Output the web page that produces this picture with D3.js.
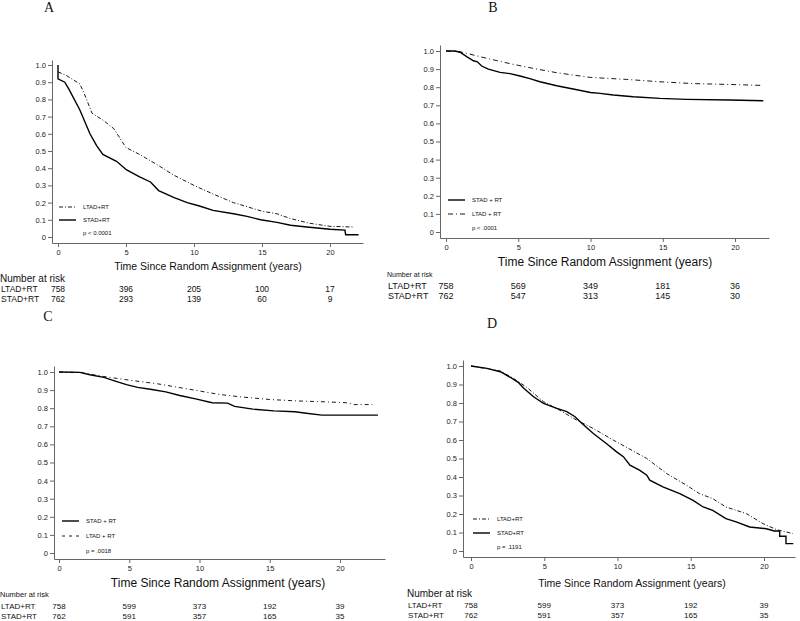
<!DOCTYPE html>
<html>
<head>
<meta charset="UTF-8">
<title>Kaplan-Meier panels</title>
<script src="https://d3js.org/d3.v7.min.js"></script>
<style>
  body { margin: 0; background: white; }
  text { font-family: "Liberation Sans", Arial, sans-serif; fill: #111; }
  .letter { font-family: "Liberation Serif", "Times New Roman", serif; font-size: 14px; text-anchor: middle; }
  .axis path, .axis line { stroke: #666; stroke-width: 1; }
  .axis text { font-size: 7.5px; fill: #222; }
  path.curve { fill: none; stroke: #000; }
</style>
</head>
<body>
<script>
// ---- data: [years, survival] ----
var aLTAD = [[0,0.96],[0.6,0.94],[1.6,0.89],[1.9,0.84],[2.5,0.72],[3.3,0.68],[4.1,0.63],[5.0,0.52],[6.0,0.48],[7.3,0.42],[8.5,0.36],[10,0.30],[11.4,0.25],[12.9,0.20],[15,0.15],[16.1,0.135],[17.1,0.107],[18.5,0.08],[20,0.062],[21.7,0.058]];
var aSTAD = [[0,1.0],[0,0.92],[0.5,0.90],[0.8,0.86],[1.6,0.74],[2.35,0.60],[2.85,0.53],[3.3,0.48],[4.3,0.44],[5.05,0.39],[6.0,0.35],[6.8,0.32],[7.4,0.27],[8.5,0.23],[9.5,0.20],[10.4,0.18],[11.4,0.155],[12.9,0.135],[13.9,0.12],[14.9,0.10],[16.1,0.085],[17.1,0.068],[18.3,0.058],[20,0.045],[21.1,0.04],[21.15,0.013],[22.1,0.013]];

var bSTAD = [[0,1.0],[0.62,1.0],[0.97,0.993],[1.43,0.969],[1.9,0.946],[2.17,0.94],[2.47,0.917],[2.93,0.90],[3.74,0.882],[4.43,0.875],[5.12,0.862],[5.8,0.847],[6.5,0.83],[7.66,0.808],[8.8,0.79],[10,0.771],[10.66,0.766],[11.58,0.757],[12.96,0.747],[14.8,0.738],[16.65,0.733],[19.65,0.729],[21.96,0.725]];
var bLTAD = [[0,1.0],[0.97,0.996],[1.43,0.987],[2.8,0.96],[4.43,0.93],[6.04,0.904],[7.66,0.88],[10,0.854],[12.5,0.843],[14.8,0.83],[17.1,0.82],[19.65,0.815],[21.8,0.81]];

var cSTAD = [[0,1.0],[1.5,0.998],[2.2,0.985],[3.2,0.97],[4.0,0.95],[4.8,0.93],[5.6,0.915],[6.5,0.905],[7.6,0.89],[8.6,0.87],[9.8,0.85],[10.9,0.83],[12.0,0.828],[12.5,0.81],[13.8,0.795],[15.3,0.785],[16.8,0.78],[17.6,0.772],[18.7,0.762],[22.7,0.762]];
var cLTAD = [[0,1.0],[1.5,0.998],[2.0,0.99],[3.2,0.975],[5,0.955],[7,0.935],[8.5,0.915],[10,0.895],[11.5,0.875],[13,0.862],[15,0.848],[17,0.84],[19,0.835],[20.5,0.83],[21,0.82],[22.3,0.82]];

var dSTAD = [[0,1.0],[1.09,0.987],[2,0.969],[2.68,0.939],[3.25,0.91],[3.6,0.88],[4.27,0.834],[4.95,0.798],[5.86,0.771],[6.54,0.753],[7.1,0.726],[7.56,0.69],[8.35,0.635],[9.26,0.58],[9.94,0.536],[10.4,0.51],[10.85,0.464],[11.5,0.437],[12,0.41],[12.2,0.383],[13.1,0.347],[14.25,0.31],[15.16,0.274],[15.85,0.238],[16.5,0.22],[17.4,0.175],[18.1,0.157],[19.02,0.13],[20.16,0.12],[20.7,0.108],[21.07,0.108],[21.07,0.08],[21.5,0.08],[21.5,0.04],[22,0.04]];
var dLTAD = [[0,1.0],[2,0.973],[2.9,0.933],[3.8,0.885],[4.95,0.807],[6.08,0.76],[7.2,0.708],[8.35,0.662],[9.7,0.6],[11.08,0.54],[12,0.5],[13.35,0.419],[14.7,0.356],[15.6,0.31],[16.5,0.283],[17.4,0.238],[18.8,0.202],[19.93,0.148],[20.84,0.116],[21.97,0.094]];

var xTicks = [0, 5, 10, 15, 20];
var yTicks = [0, 0.1, 0.2, 0.3, 0.4, 0.5, 0.6, 0.7, 0.8, 0.9, 1.0];
var rowNames = ["LTAD+RT", "STAD+RT"];
var riskA = [[758, 396, 205, 100, 17], [762, 293, 139, 60, 9]];
var riskB = [[758, 569, 349, 181, 36], [762, 547, 313, 145, 30]];
var riskC = [[758, 599, 373, 192, 39], [762, 591, 357, 165, 35]];
var riskD = [[758, 599, 373, 192, 39], [762, 591, 357, 165, 35]];

var svg = d3.select("body").append("svg").attr("width", 800).attr("height", 621);

function panel(p) {
  var g = svg.append("g");
  var x = d3.scaleLinear().domain([0, 20]).range([p.x0, p.x20]);
  var y = d3.scaleLinear().domain([0, 1]).range([p.y0, p.y1]);
  // axis scales stretched to the drawn axis lines
  var xa = x.copy().domain([x.invert(p.left), x.invert(p.right)]).range([p.left, p.right]);
  var ya = y.copy().domain([y.invert(p.bottom), y.invert(p.top)]).range([p.bottom, p.top]);

  g.append("text").attr("class", "letter").attr("x", p.lx).attr("y", p.ly).text(p.letter);

  g.append("g").attr("class", "axis").attr("transform", "translate(" + p.left + ",0)")
    .call(d3.axisLeft(ya).tickValues(yTicks).tickSize(4).tickSizeOuter(0).tickPadding(2)
      .tickFormat(function (d) { return d === 0 ? "0" : d3.format(".1f")(d); }));
  g.append("g").attr("class", "axis").attr("transform", "translate(0," + p.bottom + ")")
    .call(d3.axisBottom(xa).tickValues(xTicks).tickSize(4).tickSizeOuter(0).tickPadding(3));

  g.append("text").attr("x", p.tx).attr("y", p.ty).attr("text-anchor", "middle")
    .style("font-size", p.tsize + "px").text("Time Since Random Assignment (years)");

  var line = d3.line().x(function (d) { return x(d[0]); }).y(function (d) { return y(d[1]); });
  p.curves.forEach(function (c) {
    g.append("path").attr("class", "curve").attr("d", line(c.data))
      .attr("stroke-width", c.dash ? 0.9 : 1.4)
      .attr("stroke-dasharray", c.dash || null);
  });

  // legend
  p.legend.forEach(function (c, i) {
    var ly = p.legY + i * p.legGap;
    g.append("line").attr("x1", p.legX).attr("x2", p.legX + 17).attr("y1", ly).attr("y2", ly)
      .attr("stroke", "#000").attr("stroke-width", c.dash ? 0.9 : 1.4)
      .attr("stroke-dasharray", c.dash || null);
    g.append("text").attr("x", p.legX + 24).attr("y", ly).attr("dy", "0.35em")
      .style("font-size", "6px").text(c.name);
  });
  g.append("text").attr("x", p.legX + 24).attr("y", p.legY + 2 * p.legGap).attr("dy", "0.35em")
    .style("font-size", "6px").text(p.pval);

  // number at risk
  g.append("text").attr("x", p.rx).attr("y", p.ry).attr("dy", "0.35em")
    .style("font-size", p.nsize + "px").text("Number at risk");
  p.risk.forEach(function (row, i) {
    var ry = p.ry + p.rowGap * (i + 1) + p.rowOff;
    g.append("text").attr("x", p.rx + 1).attr("y", ry).attr("dy", "0.35em")
      .style("font-size", p.rsize + "px").text(rowNames[i]);
    g.selectAll(null).data(row).enter().append("text")
      .attr("x", function (d, j) { return x(xTicks[j]); })
      .attr("y", ry).attr("dy", "0.35em").attr("text-anchor", "middle")
      .style("font-size", p.rsize + "px").text(function (d) { return d; });
  });
}

panel({ letter: "A", lx: 49, ly: 12, x0: 58, x20: 330, y0: 237, y1: 65,
  left: 52, right: 363, top: 60, bottom: 243, tx: 208, ty: 270, tsize: 10.5,
  curves: [{ data: aLTAD, dash: "4,2,1,2" }, { data: aSTAD }],
  legend: [{ name: "LTAD+RT", dash: "4,2,1,2" }, { name: "STAD+RT" }],
  legX: 59, legY: 207, legGap: 13, pval: "p < 0.0001",
  risk: riskA, rx: 0, ry: 278, rowGap: 10, rowOff: 1, nsize: 10, rsize: 8.5 });

panel({ letter: "B", lx: 493, ly: 12, x0: 446, x20: 735, y0: 232, y1: 51,
  left: 440, right: 769, top: 45, bottom: 238, tx: 605, ty: 266, tsize: 12,
  curves: [{ data: bSTAD }, { data: bLTAD, dash: "5,3,1,3" }],
  legend: [{ name: "STAD + RT" }, { name: "LTAD + RT", dash: "5,3,1,3" }],
  legX: 448, legY: 200, legGap: 14, pval: "p < .0001",
  risk: riskB, rx: 387, ry: 275, rowGap: 9.5, rowOff: 1.5, nsize: 7, rsize: 9 });

panel({ letter: "C", lx: 48, ly: 321, x0: 59, x20: 340, y0: 553, y1: 372,
  left: 54, right: 385, top: 366, bottom: 559, tx: 218, ty: 587, tsize: 12,
  curves: [{ data: cSTAD }, { data: cLTAD, dash: "4,3,1,3" }],
  legend: [{ name: "STAD + RT" }, { name: "LTAD + RT", dash: "3,4" }],
  legX: 62, legY: 521, legGap: 15, pval: "p = .0018",
  risk: riskC, rx: 0, ry: 594, rowGap: 9.5, rowOff: 3, nsize: 7.5, rsize: 8 });

panel({ letter: "D", lx: 492, ly: 328, x0: 471, x20: 764, y0: 551, y1: 366,
  left: 463, right: 795, top: 360, bottom: 557, tx: 632, ty: 587, tsize: 10.5,
  curves: [{ data: dLTAD, dash: "4,2,1,2" }, { data: dSTAD }],
  legend: [{ name: "LTAD+RT", dash: "4,2,1,2" }, { name: "STAD+RT" }],
  legX: 473, legY: 519, legGap: 14, pval: "p = .1191",
  risk: riskD, rx: 407, ry: 593, rowGap: 9.5, rowOff: 3, nsize: 10, rsize: 8 });
</script>
</body>
</html>
